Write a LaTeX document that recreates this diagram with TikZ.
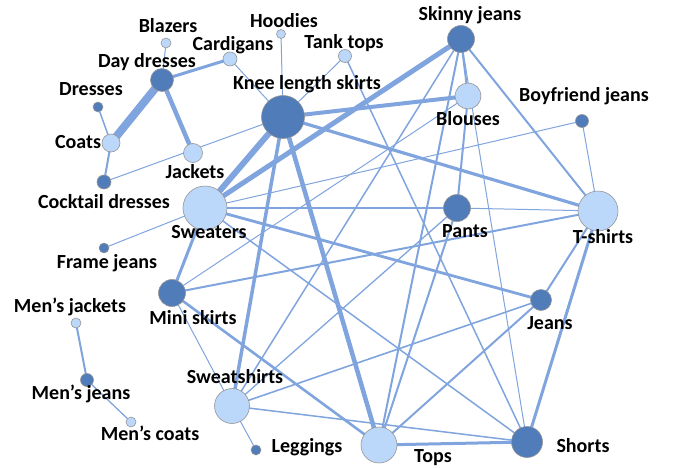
\documentclass[tikz,border=0pt]{standalone}
\usepackage{fontspec}
\setmainfont{Carlito}
\usetikzlibrary{backgrounds}
\definecolor{edgeblue}{RGB}{128,164,222}
\definecolor{darknode}{RGB}{80,124,186}
\definecolor{lightnode}{RGB}{187,215,250}
\definecolor{nodeline}{RGB}{150,150,150}
\begin{document}
\begin{tikzpicture}[x=1pt,y=-1pt,
  vbase/.style={circle,draw=nodeline,line width=0.6pt,inner sep=0pt,minimum size=#1},
  dk/.style={vbase=#1,fill=darknode},
  lt/.style={vbase=#1,fill=lightnode},
  lab/.style={font=\bfseries\fontsize{20}{22}\selectfont,text=black,inner sep=0pt},
  e/.style={draw=edgeblue,line width=#1},
  e/.default=1pt]
\useasboundingbox (0,0) rectangle (673,469);
% nodes
\node[lt=10pt] (blazers) at (166,43) {};
\node[lt=9pt] (hoodies) at (281,34) {};
\node[lt=14pt] (cardigans) at (230,59) {};
\node[lt=13pt] (tank) at (345,56) {};
\node[dk=27pt] (skinny) at (461,39) {};
\node[dk=23pt] (dd) at (162,80) {};
\node[dk=43pt] (knee) at (283,117) {};
\node[lt=26pt] (blouses) at (468,96) {};
\node[dk=13pt] (boyfriend) at (582,121) {};
\node[dk=10pt] (dresses) at (98,107) {};
\node[lt=18pt] (coats) at (111,143) {};
\node[lt=19pt] (jackets) at (193,153) {};
\node[dk=14pt] (cocktail) at (104,182) {};
\node[lt=44pt] (sweaters) at (205,208) {};
\node[dk=27pt] (pants) at (457,208) {};
\node[lt=40pt] (tshirts) at (598,211) {};
\node[dk=10pt] (frame) at (104,248) {};
\node[dk=27pt] (mini) at (172,293) {};
\node[lt=10pt] (mjackets) at (76,323) {};
\node[dk=21pt] (jeans) at (541,300) {};
\node[dk=13pt] (mjeans) at (87,380) {};
\node[lt=10pt] (mcoats) at (131,422) {};
\node[lt=35pt] (sweatshirts) at (232,406) {};
\node[dk=10pt] (leggings) at (256,450) {};
\node[lt=36pt] (tops) at (379,445) {};
\node[dk=31pt] (shorts) at (527,442) {};
% labels
\node[lab] (lblazers) at (168,26) {Blazers};
\node[lab] (lhoodies) at (284,21) {Hoodies};
\node[lab] (lcardigans) at (233,45) {Cardigans};
\node[lab] (ltank) at (344,43) {Tank tops};
\node[lab] (lskinny) at (470,15) {Skinny jeans};
\node[lab] (ldd) at (147,62) {Day dresses};
\node[lab] (lknee) at (307,84) {Knee length skirts};
\node[lab] (lblouses) at (468,119) {Blouses};
\node[lab] (lboyfriend) at (584,96) {Boyfriend jeans};
\node[lab] (ldresses) at (91,89) {Dresses};
\node[lab] (lcoats) at (78,142) {Coats};
\node[lab] (ljackets) at (195,172) {Jackets};
\node[lab] (lcocktail) at (104,202) {Cocktail dresses};
\node[lab] (lsweaters) at (209,232) {Sweaters};
\node[lab] (lpants) at (465,231) {Pants};
\node[lab] (ltshirts) at (603,237) {T-shirts};
\node[lab] (lframe) at (107,263) {Frame jeans};
\node[lab] (lmini) at (193,318) {Mini skirts};
\node[lab] (lmjackets) at (70,307) {Men’s jackets};
\node[lab] (ljeans) at (550,323) {Jeans};
\node[lab] (lmjeans) at (81,394) {Men’s jeans};
\node[lab] (lmcoats) at (150,433) {Men’s coats};
\node[lab] (lsweatshirts) at (235,377) {Sweatshirts};
\node[lab] (lleggings) at (307,447) {Leggings};
\node[lab] (ltops) at (433,458) {Tops};
\node[lab] (lshorts) at (583,446) {Shorts};
% edges
\begin{scope}[on background layer]
\draw[e=8pt] (dd.center) -- (coats.center);
\draw[e=6pt] (knee.center) -- (sweaters.center);
\draw[e=5pt] (skinny.center) -- (sweaters.center);
\draw[e=4.5pt] (dd.center) -- (jackets.center);
\draw[e=4.5pt] (knee.center) -- (tops.center);
\draw[e=4pt] (knee.center) -- (blouses.center);
\draw[e=3.5pt] (knee.center) -- (sweatshirts.center);
\draw[e=3.2pt] (knee.center) -- (tshirts.center);
\draw[e=3pt] (dd.center) -- (cardigans.center);
\draw[e=3pt] (tshirts.center) -- (shorts.center);
\draw[e=2.8pt] (sweaters.center) -- (pants.center);
\draw[e=3pt] (sweaters.center) -- (mini.center);
\draw[e=3pt] (tops.center) -- (shorts.center);
\draw[e=2.6pt] (mini.center) -- (tops.center);
\draw[e=2.8pt] (sweaters.center) -- (jeans.center);
\draw[e=2pt] (skinny.center) -- (blouses.center);
\draw[e=2pt] (skinny.center) -- (tshirts.center);
\draw[e=2pt] (blouses.center) -- (pants.center);
\draw[e=2pt] (coats.center) -- (cocktail.center);
\draw[e=2pt] (tops.center) -- (jeans.center);
\draw[e=2pt] (jeans.center) -- (tshirts.center);
\draw[e=2pt] (skinny.center) -- (tops.center);
\draw[e=2pt] (pants.center) -- (tops.center);
\draw[e=2pt] (mini.center) -- (tshirts.center);
\draw[e=1.6pt] (sweatshirts.center) -- (jeans.center);
\draw[e=2pt] (mjackets.center) -- (mjeans.center);
\draw[e=1.5pt] (skinny.center) -- (sweatshirts.center);
\draw[e=1.5pt] (sweaters.center) -- (shorts.center);
\draw[e=1.5pt] (sweatshirts.center) -- (shorts.center);
\draw[e=1.5pt] (tank.center) -- (shorts.center);
\draw[e=1.5pt] (dresses.center) -- (coats.center);
\draw[e=1.3pt] (mjeans.center) -- (mcoats.center);
\draw[e=1.3pt] (sweatshirts.center) -- (pants.center);
\draw[e=1pt] (blazers.center) -- (dd.center);
\draw[e=1pt] (cardigans.center) -- (knee.center);
\draw[e=1pt] (hoodies.center) -- (knee.center);
\draw[e=1pt] (tank.center) -- (knee.center);
\draw[e=1pt] (cocktail.center) -- (knee.center);
\draw[e=1pt] (sweaters.center) -- (frame.center);
\draw[e=1pt] (sweaters.center) -- (boyfriend.center);
\draw[e=1pt] (boyfriend.center) -- (tshirts.center);
\draw[e=1pt] (mini.center) -- (blouses.center);
\draw[e=1pt] (mini.center) -- (sweatshirts.center);
\draw[e=1pt] (sweatshirts.center) -- (leggings.center);
\draw[e=1pt] (pants.center) -- (tshirts.center);
\draw[e=1pt] (skinny.center) -- (shorts.center);
\end{scope}
\end{tikzpicture}
\end{document}
